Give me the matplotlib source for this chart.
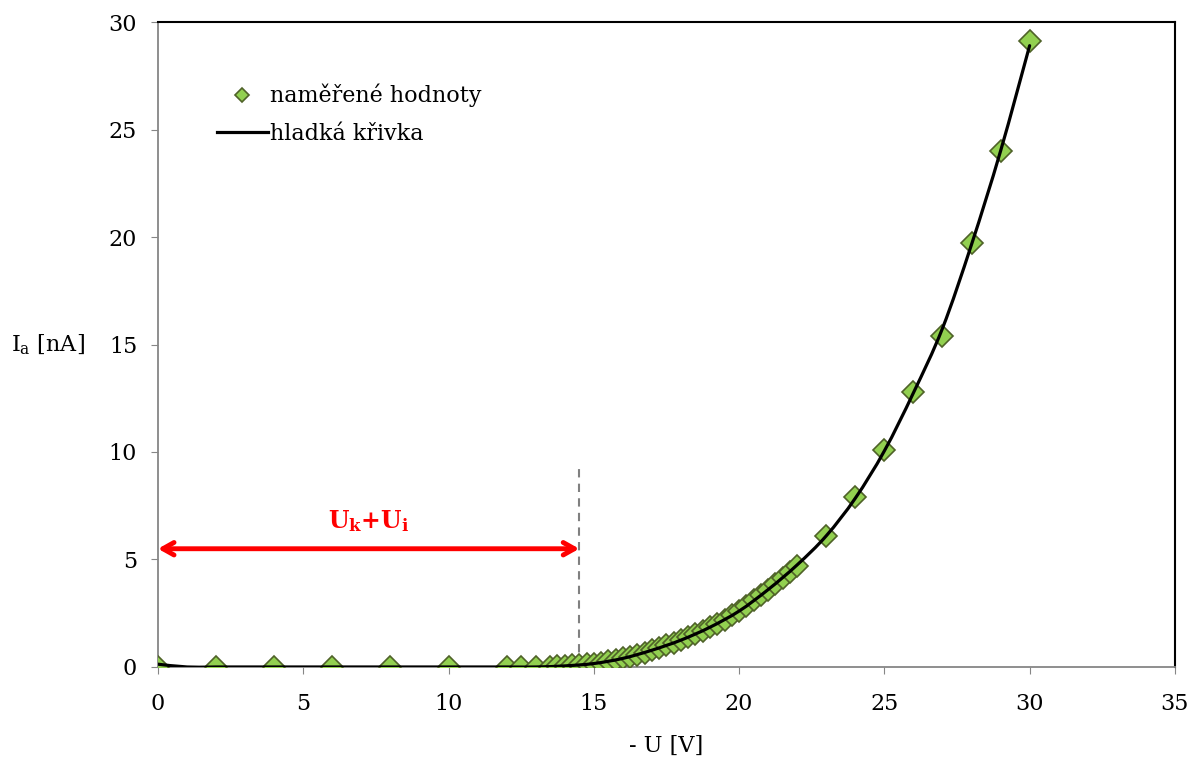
import matplotlib.pyplot as plt
from matplotlib.path import Path
from matplotlib.patches import PathPatch
from matplotlib.lines import Line2D

# measured values: -U [V] and I_a [nA]
u_vals = [0, 2, 4, 6, 8, 10, 12, 12.5, 13, 13.5, 13.75,
          14.0, 14.25, 14.5, 14.75, 15.0, 15.25, 15.5, 15.75,
          16.0, 16.25, 16.5, 16.75, 17.0, 17.25, 17.5, 17.75,
          18.0, 18.25, 18.5, 18.75, 19.0, 19.25, 19.5, 19.75,
          20.0, 20.25, 20.5, 20.75, 21.0, 21.25, 21.5, 21.75,
          22.0, 23, 24, 25, 26, 27, 28, 29, 30]
i_vals = [0, 0, 0, 0, 0, 0, 0, 0, 0, 0.02, 0.03,
          0.05, 0.07, 0.09, 0.12, 0.16, 0.2, 0.26, 0.32,
          0.4, 0.47, 0.55, 0.66, 0.78, 0.88, 1.0, 1.12,
          1.25, 1.38, 1.52, 1.68, 1.85, 2.02, 2.2, 2.4,
          2.6, 2.85, 3.1, 3.35, 3.6, 3.88, 4.15, 4.42,
          4.7, 6.1, 7.9, 10.1, 12.8, 15.4, 19.7, 24.0, 29.1]

# smooth curve ("hladká křivka")
curve_u = [0, 1, 2, 4, 6, 8, 10, 12, 13, 14, 15, 16, 17, 18, 19, 20,
           21, 22, 23, 24, 25, 26, 27, 28, 29, 30]
curve_i = [0.13, 0.0, 0.0, 0.0, 0.0, 0.0, 0.0, 0.0, 0.0, 0.05, 0.16, 0.4, 0.78,
           1.25, 1.85, 2.6, 3.6, 4.75, 6.1, 7.85, 10.05, 12.75, 15.75, 19.65,
           24.0, 28.9]

threshold = 14.5
arrow_y = 5.5


def smooth_path(xs, ys):
    # bezier segments like a spreadsheet "smoothed line"
    pts = list(zip(xs, ys))
    verts = [pts[0]]
    codes = [Path.MOVETO]
    n = len(pts)
    for k in range(n - 1):
        p0 = pts[k - 1] if k > 0 else pts[k]
        p1 = pts[k]
        p2 = pts[k + 1]
        p3 = pts[k + 2] if k + 2 < n else pts[k + 1]
        c1 = (p1[0] + (p2[0] - p0[0]) / 6, p1[1] + (p2[1] - p0[1]) / 6)
        c2 = (p2[0] - (p3[0] - p1[0]) / 6, p2[1] - (p3[1] - p1[1]) / 6)
        verts += [c1, c2, p2]
        codes += [Path.CURVE4] * 3
    return Path(verts, codes)


plt.rcParams["font.family"] = ["DejaVu Serif"]
plt.rcParams["mathtext.fontset"] = "dejavuserif"

fig = plt.figure(figsize=(11.94, 7.62), dpi=100)
ax = fig.add_axes([0.1323, 0.1247, 0.8517, 0.8464])

ax.plot(u_vals, i_vals, "D", markersize=11.5, markerfacecolor="#92D050",
        markeredgecolor="#4F6228", markeredgewidth=1.2, linestyle="none", zorder=3)
ax.add_patch(PathPatch(smooth_path(curve_u, curve_i), facecolor="none",
                       edgecolor="black", linewidth=2.3, capstyle="round", zorder=4))

ax.plot([threshold, threshold], [0, 9.4], color="#808080", linewidth=1.5,
        linestyle=(0, (4, 3)), zorder=2)
ax.annotate("", xy=(threshold, arrow_y), xytext=(0, arrow_y),
            arrowprops=dict(arrowstyle="<->,head_length=0.8,head_width=0.45",
                            color="#FF0000", lw=3.5, shrinkA=0, shrinkB=0), zorder=5)
ax.text(threshold / 2, 6.8, r"$\mathbf{U_k}$+$\mathbf{U_i}$", color="#FF0000",
        fontsize=17, fontweight="bold", ha="center", va="center")

ax.set_xlim(0, 35)
ax.set_ylim(0, 30)
ax.set_xticks(range(0, 36, 5))
ax.set_yticks(range(0, 31, 5))
ax.tick_params(axis="both", labelsize=16, direction="out", length=5, color="#868686")
ax.tick_params(axis="x", pad=14)
ax.tick_params(axis="y", pad=10)

for side in ("left", "bottom"):
    ax.spines[side].set_color("#868686")
    ax.spines[side].set_linewidth(1.3)
for side in ("top", "right"):
    ax.spines[side].set_color("black")
    ax.spines[side].set_linewidth(1.5)

ax.set_xlabel("- U [V]", fontsize=16, labelpad=14)
ax.set_ylabel(r"I$_\mathrm{a}$ [nA]", fontsize=16, rotation=0, labelpad=44, va="center")

handles = [
    Line2D([], [], marker="D", markersize=7.5, markerfacecolor="#92D050",
           markeredgecolor="#4F6228", markeredgewidth=1.2, linestyle="none"),
    Line2D([], [], color="black", linewidth=2.3),
]
ax.legend(handles, ["naměřené hodnoty", "hladká křivka"], loc="upper left",
          bbox_to_anchor=(0.038, 0.935), frameon=False, fontsize=16,
          handlelength=2.3, handletextpad=0.1, labelspacing=0.7)

fig.savefig("out.png", dpi=100)
